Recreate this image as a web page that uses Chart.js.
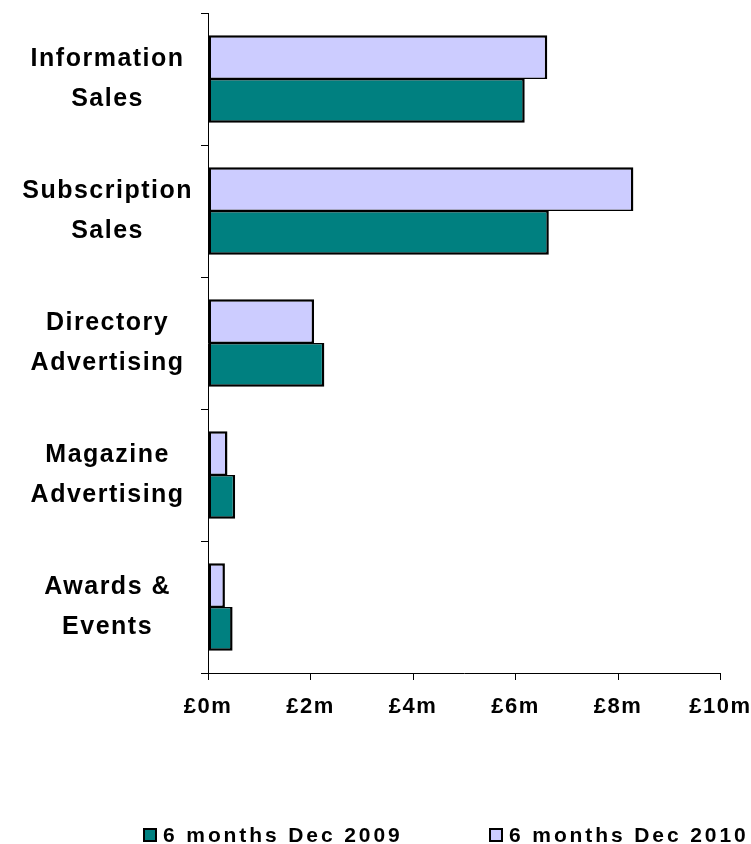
<!DOCTYPE html>
<html>
<head>
<meta charset="utf-8">
<title>Revenue by stream</title>
<script src="https://cdn.jsdelivr.net/npm/chart.js@4"></script>
<style>
  html, body { margin: 0; padding: 0; background: #fff; }
  #wrap { position: relative; width: 751px; height: 844px; overflow: hidden; }
  #chart { position: absolute; left: 0; top: 0; }
  .key { position: absolute; top: 825px; height: 20px; white-space: nowrap; color: #000;
         font: bold 21px 'Liberation Sans', Arial, sans-serif; line-height: 20px; letter-spacing: 2.9px; }
  .key i { position: absolute; left: 0; top: 3px; width: 14px; height: 14px; box-sizing: border-box; border: 2px solid #000; }
  .key span { position: absolute; left: 20px; top: 0; }
</style>
</head>
<body>
<div id="wrap">
  <canvas id="chart" width="751" height="844"></canvas>
</div>
<script>
// Revenue streams, £ millions
const categories = [
  ['Information', 'Sales'],
  ['Subscription', 'Sales'],
  ['Directory', 'Advertising'],
  ['Magazine', 'Advertising'],
  ['Awards &', 'Events']
];
const dec2010 = [6.62, 8.30, 2.07, 0.38, 0.33];
const dec2009 = [6.18, 6.65, 2.27, 0.53, 0.48];
const seriesNames = ['6 months Dec 2009', '6 months Dec 2010'];
const xTickLabels = ['£0m', '£2m', '£4m', '£6m', '£8m', '£10m'];

const TEAL = '#008080';
const LAVENDER = '#CCCCFF';
const FONT = "'Liberation Sans', Arial, sans-serif";

// tracked bold lettering for all canvas text
const tracking = {
  id: 'tracking',
  beforeUpdate(chart) { chart.ctx.letterSpacing = '1.5px'; },
  beforeDraw(chart) { chart.ctx.letterSpacing = '1.5px'; }
};

const chart = new Chart(document.getElementById('chart'), {
  type: 'bar',
  data: {
    labels: categories,
    datasets: [
      {
        label: seriesNames[1],
        data: dec2010,
        backgroundColor: LAVENDER,
        borderColor: '#000',
        borderWidth: { top: 2.5, bottom: 1.5, left: 2.5, right: 2.5 },
        borderSkipped: false
      },
      {
        label: seriesNames[0],
        data: dec2009,
        backgroundColor: TEAL,
        borderColor: '#000',
        borderWidth: { top: 1.5, bottom: 2.5, left: 2.5, right: 2.5 },
        borderSkipped: false
      }
    ]
  },
  options: {
    indexAxis: 'y',
    responsive: false,
    animation: false,
    events: [],
    devicePixelRatio: 1,
    layout: { padding: { left: 0, right: 30.5, top: 13, bottom: 0 } },
    datasets: { bar: { categoryPercentage: 0.662, barPercentage: 1 } },
    plugins: { legend: { display: false }, tooltip: { enabled: false } },
    scales: {
      x: {
        min: 0,
        max: 10,
        ticks: {
          stepSize: 2,
          padding: 14,
          maxRotation: 0,
          autoSkip: false,
          color: '#000',
          font: { family: FONT, size: 22, weight: 'bold' },
          callback: (v, i) => xTickLabels[i]
        },
        grid: { drawOnChartArea: false, drawTicks: true, tickLength: 7, color: '#000' },
        border: { display: true, color: '#000', width: 1 },
        afterFit(s) { s.height = 171; s.paddingLeft = 0; s.paddingRight = 0; }
      },
      y: {
        ticks: {
          padding: 8,
          crossAlign: 'center',
          color: '#000',
          font: { family: FONT, size: 25, weight: 'bold', lineHeight: 40 / 25 }
        },
        grid: { drawOnChartArea: false, drawTicks: true, tickLength: 7, color: '#000', offset: true },
        border: { display: true, color: '#000', width: 1 },
        afterFit(s) { s.width = 208; s.paddingTop = 0; s.paddingBottom = 0; }
      }
    }
  },
  plugins: [tracking]
});

// legend below the plot, 2009 first
const keyLefts = [143, 489];
[1, 0].forEach((dsIndex, k) => {
  const ds = chart.data.datasets[dsIndex];
  const item = document.createElement('div');
  item.className = 'key';
  item.style.left = keyLefts[k] + 'px';
  const sw = document.createElement('i');
  sw.style.background = ds.backgroundColor;
  const txt = document.createElement('span');
  txt.textContent = ds.label;
  item.appendChild(sw);
  item.appendChild(txt);
  document.getElementById('wrap').appendChild(item);
});
</script>
</body>
</html>
